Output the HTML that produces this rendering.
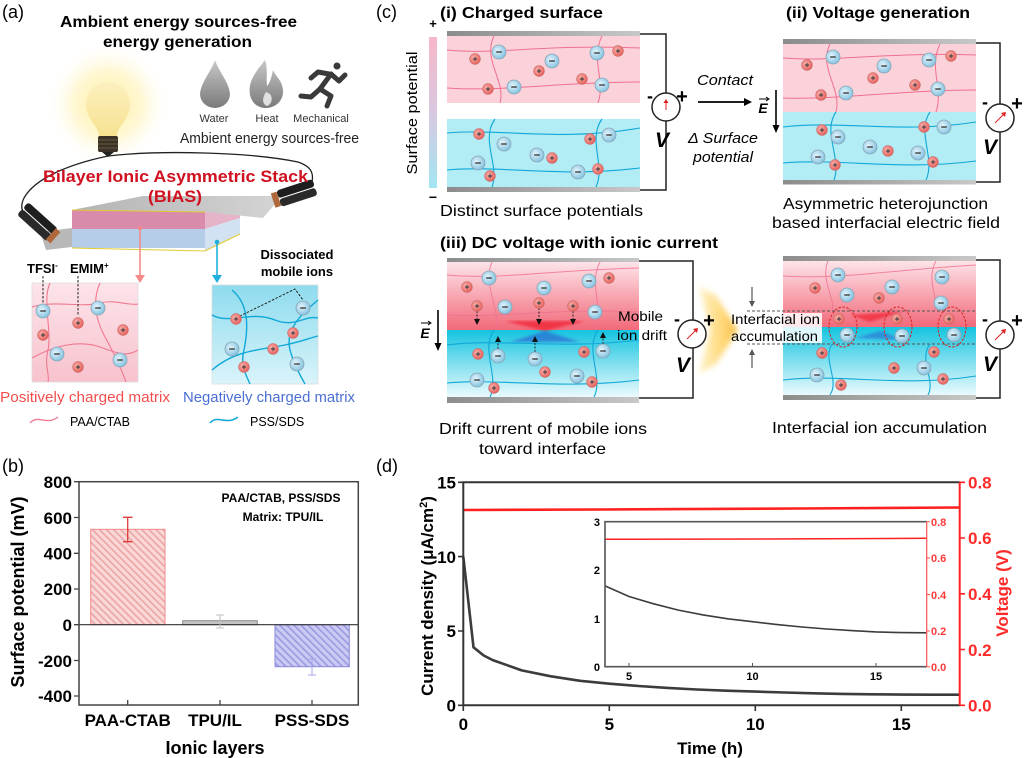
<!DOCTYPE html>
<html><head><meta charset="utf-8"><style>
html,body{margin:0;padding:0;background:#fff;}
svg{display:block;font-family:"Liberation Sans",Arial,sans-serif;}
</style></head><body>
<svg width="1024" height="758" viewBox="0 0 1024 758" xmlns="http://www.w3.org/2000/svg">
<defs>
<radialGradient id="gr" cx="0.4" cy="0.4" r="0.6"><stop offset="0" stop-color="#fbb4b0"/><stop offset="1" stop-color="#e8605c"/></radialGradient>
<radialGradient id="gb" cx="0.4" cy="0.4" r="0.6"><stop offset="0" stop-color="#e4f4fb"/><stop offset="1" stop-color="#86c4e2"/></radialGradient>
<g id="ip"><circle r="5.4" fill="url(#gr)" stroke="#c9706c" stroke-width="0.6"/><path d="M-2.1 0H2.1M0 -2.1V2.1" stroke="#333" stroke-width="0.9"/></g>
<g id="in"><circle r="7" fill="url(#gb)" stroke="#8aa6b4" stroke-width="0.8"/><path d="M-2.8 0H2.8" stroke="#333" stroke-width="1.3"/></g>
<radialGradient id="glow" cx="0.5" cy="0.5" r="0.5"><stop offset="0" stop-color="#fff0a0"/><stop offset="0.55" stop-color="#fff6cc" stop-opacity="0.85"/><stop offset="1" stop-color="#fff" stop-opacity="0"/></radialGradient>
<linearGradient id="bulb" x1="0" y1="0" x2="0" y2="1"><stop offset="0" stop-color="#fdf0c0"/><stop offset="1" stop-color="#f6e290"/></linearGradient>
<linearGradient id="gicon" x1="0" y1="0" x2="0" y2="1"><stop offset="0" stop-color="#c8c8c8"/><stop offset="1" stop-color="#7a7a7a"/></linearGradient>
<linearGradient id="pinkbox" x1="0" y1="0" x2="0" y2="1"><stop offset="0" stop-color="#fde4ea"/><stop offset="1" stop-color="#f7c2cd"/></linearGradient>
<linearGradient id="bluebox" x1="0" y1="0" x2="0" y2="1"><stop offset="0" stop-color="#8edbee"/><stop offset="1" stop-color="#daf4fa"/></linearGradient>
<linearGradient id="spbar" x1="0" y1="0" x2="0" y2="1"><stop offset="0" stop-color="#f7b7c8"/><stop offset="0.5" stop-color="#d8c8e0"/><stop offset="1" stop-color="#a2e6f2"/></linearGradient>
<linearGradient id="gray" x1="0" y1="0" x2="1" y2="0"><stop offset="0" stop-color="#8c8c8c"/><stop offset="1" stop-color="#c8c8c8"/></linearGradient>
<linearGradient id="pk3" x1="0" y1="0" x2="0" y2="1"><stop offset="0" stop-color="#fde4e9"/><stop offset="1" stop-color="#f2697a"/></linearGradient>
<linearGradient id="cy3" x1="0" y1="0" x2="0" y2="1"><stop offset="0" stop-color="#14c4e0"/><stop offset="1" stop-color="#eafafd"/></linearGradient>
<linearGradient id="yel" x1="0" y1="0" x2="1" y2="0"><stop offset="0" stop-color="#fff3c8"/><stop offset="0.6" stop-color="#ffd46a"/><stop offset="1" stop-color="#f8b830"/></linearGradient>
<linearGradient id="sheet" x1="0" y1="0" x2="1" y2="0"><stop offset="0" stop-color="#b4b4b4"/><stop offset="1" stop-color="#d4d4d4"/></linearGradient>
<filter id="blur3"><feGaussianBlur stdDeviation="3"/></filter>
<filter id="blur1"><feGaussianBlur stdDeviation="1.2"/></filter>
<pattern id="hp" width="5" height="5" patternUnits="userSpaceOnUse" patternTransform="rotate(-45)"><rect width="5" height="5" fill="#f9d8d8"/><rect width="1.6" height="5" fill="#eea4a4"/></pattern>
<pattern id="hb" width="5" height="5" patternUnits="userSpaceOnUse" patternTransform="rotate(-45)"><rect width="5" height="5" fill="#cacaf2"/><rect width="1.6" height="5" fill="#9a9ae2"/></pattern>
</defs>
<rect width="1024" height="758" fill="#fff"/>
<circle cx="108" cy="104" r="62" fill="url(#glow)"/>

<!-- ============ PANEL A ============ -->
<text x="2" y="18" font-size="18">(a)</text>
<text x="60" y="27" font-size="16" font-weight="bold" textLength="237" lengthAdjust="spacingAndGlyphs">Ambient energy sources-free</text>
<text x="103" y="47" font-size="16" font-weight="bold" textLength="149" lengthAdjust="spacingAndGlyphs">energy generation</text>
<path d="M215 60 C211 72,201 82,200 94 A15 14 0 0 0 230 94 C229 82,219 72,215 60Z" fill="url(#gicon)"/>
<path d="M265 60 C254 74,248 82,250 95 C252 104,259 108,266 108 C276 108,284 100,283 90 C282 80,276 77,273 70 C271 80,269 84,267 86 C266 76,268 68,265 60Z" fill="url(#gicon)"/>
<path d="M266 92 C262 98,262 104,267 106 C272 104,273 98,270 94Z" fill="#e0e0e0"/>
<g stroke="#3a3a3a" stroke-width="5" stroke-linecap="round" stroke-linejoin="round" fill="none">
<circle cx="337" cy="66" r="3.5" fill="#3a3a3a" stroke="none"/>
<path d="M331 74 L320 89"/><path d="M331 74 L339 81 L345 75"/><path d="M329 74 L318 72 L311 78"/>
<path d="M320 89 L331 96 L327 106"/><path d="M320 89 L311 97 L301 96"/>
</g>
<text x="214" y="122" font-size="11" text-anchor="middle" fill="#333">Water</text>
<text x="267" y="122" font-size="11" text-anchor="middle" fill="#333">Heat</text>
<text x="321" y="122" font-size="11" text-anchor="middle" fill="#333">Mechanical</text>
<text x="180" y="143" font-size="15" fill="#222" textLength="179" lengthAdjust="spacingAndGlyphs">Ambient energy sources-free</text>
<path d="M99 136 C99 126,86 120,86 104 A22 22 0 0 1 130 104 C130 120,117 126,117 136Z" fill="url(#bulb)"/>
<rect x="98" y="136" width="20" height="16" rx="2" fill="#3a3226"/>
<path d="M98 140H118M98 144H118M98 148H118" stroke="#6a5a40" stroke-width="1"/>
<path d="M102 152 L108 157 L114 152Z" fill="#222"/>
<path d="M108 156 C160 150,250 152,298 162 C310 166,314 172,312 182" fill="none" stroke="#222" stroke-width="1.3"/>
<path d="M108 156 C70 164,35 178,24 198 C20 206,22 212,26 216" fill="none" stroke="#222" stroke-width="1.3"/>
<polygon points="40,232 72,228 72,247 46,250" fill="#b8b8b8"/>
<polygon points="205,212 240,203 240,218 205,229" fill="#e6b4c8"/>
<polygon points="205,229 240,218 240,234 205,251" fill="#d2e2f2"/>
<rect x="72" y="210" width="133" height="19" fill="#d98bac"/>
<rect x="72" y="229" width="133" height="19" fill="#b5cde9"/>
<path d="M72 248 L205 251 L240 234" fill="none" stroke="#e2cc30" stroke-width="1"/>
<polygon points="72,210 143,196 282,196 263,218 205,212" fill="url(#sheet)"/>
<path d="M72 210 L205 212" stroke="#e2cc30" stroke-width="1"/>
<g transform="translate(40,222) rotate(42)"><rect x="-22" y="-7" width="40" height="8" rx="3" fill="#1e1e1e"/><rect x="-22" y="2" width="40" height="8" rx="3" fill="#2a2a2a"/><rect x="16" y="-6" width="6" height="15" fill="#b0683a"/></g>
<g transform="translate(292,194) rotate(-18)"><rect x="-14" y="-8" width="38" height="8" rx="3" fill="#1e1e1e"/><rect x="-14" y="1" width="38" height="8" rx="3" fill="#2a2a2a"/><rect x="-20" y="-7" width="6" height="15" fill="#b0683a"/></g>
<text x="43" y="182" font-size="17" font-weight="bold" fill="#cf1120" textLength="265" lengthAdjust="spacingAndGlyphs">Bilayer Ionic Asymmetric Stack</text>
<text x="148" y="202" font-size="17" font-weight="bold" fill="#cf1120" textLength="54" lengthAdjust="spacingAndGlyphs">(BIAS)</text>
<circle cx="140" cy="228" r="2.3" fill="#f48a8a"/>
<path d="M140 228 V276" stroke="#f48a8a" stroke-width="1.6"/><path d="M135 275 L140 283 L145 275Z" fill="#f48a8a"/>
<circle cx="217" cy="242" r="2.3" fill="#20b0e0"/>
<path d="M217 242 V276" stroke="#20b0e0" stroke-width="1.6"/><path d="M212 275 L217 283 L222 275Z" fill="#20b0e0"/>
<text x="27" y="273" font-size="13" font-weight="bold">TFSI<tspan font-size="8" dy="-5">-</tspan></text>
<text x="70" y="273" font-size="13" font-weight="bold">EMIM<tspan font-size="8" dy="-5">+</tspan></text>
<text x="297" y="259" font-size="13" font-weight="bold" text-anchor="middle">Dissociated</text>
<text x="297" y="276" font-size="13" font-weight="bold" text-anchor="middle">mobile ions</text>
<rect x="32" y="283" width="106" height="99" fill="url(#pinkbox)" stroke="#ddd" stroke-width="0.8"/>
<g fill="none" stroke="#f07890" stroke-width="1.1">
<path d="M32 307 C55 300,80 308,100 303 C115 299,128 306,138 304"/>
<path d="M32 358 C55 345,80 340,100 347 C115 352,125 358,138 350"/>
<path d="M50 283 C42 300,52 330,48 350 C44 365,50 375,48 382"/>
<path d="M100 283 C92 300,96 320,104 335 C112 350,120 365,126 382"/>
</g>
<path d="M43 276 V304 M78 276 V316" stroke="#222" stroke-width="1" stroke-dasharray="2.5,1.5"/>
<use href="#in" x="43" y="311"/><use href="#in" x="98" y="308"/><use href="#in" x="57" y="354"/><use href="#in" x="120" y="360"/>
<use href="#ip" x="78" y="323"/><use href="#ip" x="43" y="335"/><use href="#ip" x="123" y="330"/><use href="#ip" x="78" y="367"/>
<rect x="212" y="285" width="106" height="99" fill="url(#bluebox)" stroke="#ddd" stroke-width="0.8"/>
<g fill="none" stroke="#10a8d8" stroke-width="1.4">
<path d="M212 315 C230 325,250 310,275 320 C295 328,305 315,318 318"/>
<path d="M212 370 C235 350,260 350,285 345 C300 342,310 338,318 336"/>
<path d="M232 290 C250 305,248 330,244 350 C240 365,246 375,250 384"/>
<path d="M318 300 C300 315,285 330,290 350 C294 365,300 375,305 384"/>
</g>
<path d="M236 318 L295 289 L303 300" fill="none" stroke="#222" stroke-width="1" stroke-dasharray="2.5,1.5"/>
<use href="#ip" x="236" y="319"/><use href="#ip" x="293" y="333"/><use href="#ip" x="273" y="349"/><use href="#ip" x="244" y="367"/>
<use href="#in" x="303" y="308"/><use href="#in" x="232" y="349"/><use href="#in" x="297" y="364"/>
<text x="0" y="402" font-size="15" fill="#f24e4e" textLength="170" lengthAdjust="spacingAndGlyphs">Positively charged matrix</text>
<text x="183" y="402" font-size="15" fill="#4b6fd2" textLength="172" lengthAdjust="spacingAndGlyphs">Negatively charged matrix</text>
<path d="M30 423 C38 414,46 426,58 417" fill="none" stroke="#f07890" stroke-width="1.3"/>
<text x="70" y="426" font-size="12.5">PAA/CTAB</text>
<path d="M210 423 C218 414,226 426,238 417" fill="none" stroke="#10a8d8" stroke-width="1.5"/>
<text x="250" y="426" font-size="12.5">PSS/SDS</text>

<!-- ============ PANEL C ============ -->
<text x="376" y="18" font-size="18">(c)</text>
<text x="440" y="18" font-size="16" font-weight="bold" textLength="163" lengthAdjust="spacingAndGlyphs">(i) Charged surface</text>
<rect x="429" y="37" width="8" height="151" fill="url(#spbar)"/>
<text x="433" y="28" font-size="13" font-weight="bold" text-anchor="middle">+</text>
<text x="433" y="202" font-size="14" font-weight="bold" text-anchor="middle">−</text>
<text transform="translate(417,113) rotate(-90)" font-size="15" text-anchor="middle" textLength="123" lengthAdjust="spacingAndGlyphs">Surface potential</text>
<rect x="447" y="31" width="193" height="5" fill="url(#gray)"/>
<rect x="447" y="36" width="193" height="67" fill="#fbd2da"/>
<rect x="447" y="119" width="193" height="68" fill="#b2ecf5"/>
<rect x="447" y="187" width="193" height="5" fill="url(#gray)"/>
<g fill="none" stroke="#f07090" stroke-width="1">
<path d="M447 50 C500 55,540 44,640 48"/><path d="M447 88 C500 92,560 82,640 82"/>
<path d="M494 36 C482 60,506 80,500 103"/><path d="M602 36 C590 60,606 80,598 103"/>
</g>
<g fill="none" stroke="#10a8d8" stroke-width="1.1">
<path d="M447 133 C500 128,560 142,640 128"/><path d="M447 170 C500 165,560 178,640 168"/>
<path d="M495 119 C480 140,500 165,492 187"/><path d="M602 119 C587 140,606 165,596 187"/>
</g>
<use href="#in" x="499" y="52"/><use href="#in" x="552" y="61"/><use href="#in" x="597" y="53"/><use href="#in" x="514" y="87"/><use href="#in" x="602" y="85"/>
<use href="#ip" x="475" y="59"/><use href="#ip" x="539" y="71"/><use href="#ip" x="618" y="51"/><use href="#ip" x="488" y="89"/><use href="#ip" x="582" y="79"/>
<use href="#ip" x="479" y="134"/><use href="#ip" x="590" y="139"/><use href="#ip" x="552" y="158"/><use href="#ip" x="490" y="176"/><use href="#ip" x="598" y="169"/>
<use href="#in" x="504" y="144"/><use href="#in" x="609" y="135"/><use href="#in" x="537" y="155"/><use href="#in" x="478" y="163"/><use href="#in" x="578" y="172"/>
<path d="M640 34 H666 V93 M666 121 V190 H640" fill="none" stroke="#222" stroke-width="1.5"/>
<circle cx="666" cy="107" r="14" fill="#fff" stroke="#222" stroke-width="1.5"/>
<path d="M666 110 V101" stroke="#e02020" stroke-width="1"/><path d="M663.5 103 L666 99 L668.5 103Z" fill="#e02020"/>
<text x="650" y="102" font-size="18" font-weight="bold" text-anchor="middle">-</text>
<text x="682" y="103" font-size="20" font-weight="bold" text-anchor="middle">+</text>
<text x="662" y="147" font-size="21" font-weight="bold" font-style="italic" text-anchor="middle">V</text>
<text x="440" y="216" font-size="16" textLength="203" lengthAdjust="spacingAndGlyphs">Distinct surface potentials</text>
<text x="697" y="85" font-size="15" font-style="italic" textLength="56" lengthAdjust="spacingAndGlyphs">Contact</text>
<path d="M698 102 H745" stroke="#000" stroke-width="1.8"/><path d="M744 98 L752 102 L744 106Z" fill="#000"/>
<text x="688" y="143" font-size="15" font-style="italic" textLength="70" lengthAdjust="spacingAndGlyphs">Δ Surface</text>
<text x="693" y="162" font-size="15" font-style="italic" textLength="60" lengthAdjust="spacingAndGlyphs">potential</text>
<text x="763" y="113" font-size="14" font-weight="bold" font-style="italic" text-anchor="middle">E</text>
<path d="M759 99 H768" stroke="#000" stroke-width="1"/><path d="M766 97 L769 99 L766 101" fill="none" stroke="#000" stroke-width="1"/>
<path d="M776 90 V126" stroke="#000" stroke-width="1.6"/><path d="M772.5 125 L776 133 L779.5 125Z" fill="#000"/>
<text x="786" y="18" font-size="16" font-weight="bold" textLength="184" lengthAdjust="spacingAndGlyphs">(ii) Voltage generation</text>
<rect x="783" y="39" width="193" height="5" fill="url(#gray)"/>
<rect x="783" y="44" width="193" height="68" fill="#fbd2da"/>
<rect x="783" y="112" width="193" height="68" fill="#b2ecf5"/>
<rect x="783" y="180" width="193" height="4.5" fill="url(#gray)"/>
<g fill="none" stroke="#f07090" stroke-width="1">
<path d="M783 58 C840 62,880 52,976 55"/><path d="M783 98 C840 100,900 90,976 90"/>
<path d="M830 44 C818 68,842 88,836 112"/><path d="M940 44 C928 68,944 88,936 112"/>
</g>
<g fill="none" stroke="#10a8d8" stroke-width="1.1">
<path d="M783 127 C840 120,900 134,976 122"/><path d="M783 163 C840 158,900 171,976 161"/>
<path d="M836 112 C822 132,842 158,834 180"/><path d="M930 112 C916 132,936 158,926 180"/>
</g>
<use href="#ip" x="807" y="65"/><use href="#ip" x="873" y="78"/><use href="#ip" x="951" y="56"/><use href="#ip" x="821" y="95"/><use href="#ip" x="915" y="85"/>
<use href="#in" x="833" y="57"/><use href="#in" x="884" y="66"/><use href="#in" x="929" y="60"/><use href="#in" x="846" y="93"/><use href="#in" x="938" y="89"/>
<use href="#ip" x="822" y="130"/><use href="#ip" x="924" y="127"/><use href="#ip" x="888" y="151"/><use href="#ip" x="835" y="165"/><use href="#ip" x="933" y="162"/>
<use href="#in" x="838" y="137"/><use href="#in" x="944" y="127"/><use href="#in" x="870" y="147"/><use href="#in" x="818" y="157"/><use href="#in" x="918" y="153"/>
<path d="M976 43 H1000 V104 M1000 132 V182 H976" fill="none" stroke="#222" stroke-width="1.5"/>
<circle cx="1000" cy="118" r="14" fill="#fff" stroke="#222" stroke-width="1.5"/>
<path d="M995 123 L1004 114" stroke="#e02020" stroke-width="1"/><path d="M1001 113 L1006 112 L1005 117Z" fill="#e02020"/>
<text x="985" y="108" font-size="18" font-weight="bold" text-anchor="middle">-</text>
<text x="1017" y="110" font-size="20" font-weight="bold" text-anchor="middle">+</text>
<text x="990" y="154" font-size="21" font-weight="bold" font-style="italic" text-anchor="middle">V</text>
<text x="783" y="209" font-size="16" textLength="205" lengthAdjust="spacingAndGlyphs">Asymmetric heterojunction</text>
<text x="772" y="228" font-size="16" textLength="228" lengthAdjust="spacingAndGlyphs">based interfacial electric field</text>
<text x="440" y="248" font-size="16" font-weight="bold" textLength="278" lengthAdjust="spacingAndGlyphs">(iii) DC voltage with ionic current</text>
<rect x="447" y="258" width="192" height="4.5" fill="url(#gray)"/>
<rect x="447" y="262" width="192" height="68" fill="url(#pk3)"/>
<rect x="447" y="330" width="192" height="67" fill="url(#cy3)"/>
<rect x="447" y="397" width="192" height="6" fill="url(#gray)"/>
<polygon points="505,321 585,321 545,331" fill="#f02030" opacity="0.75" filter="url(#blur1)"/>
<polygon points="510,342 545,331 580,342" fill="#2a5ad0" opacity="0.6" filter="url(#blur1)"/>
<g fill="none" stroke="#f07090" stroke-width="1" opacity="0.8">
<path d="M447 275 C500 280,550 270,639 268"/><path d="M447 315 C500 318,560 308,639 312"/>
<path d="M492 262 C482 285,500 305,496 330"/><path d="M600 262 C588 285,604 305,596 330"/>
</g>
<g fill="none" stroke="#10a8d8" stroke-width="1.1">
<path d="M447 345 C500 338,560 350,639 340"/><path d="M447 383 C500 378,560 390,639 380"/>
<path d="M494 330 C480 350,500 378,490 397"/><path d="M598 330 C584 350,604 378,594 397"/>
</g>
<g stroke="#222" stroke-width="1" stroke-dasharray="2,1.5">
<path d="M477 311 V320"/><path d="M539 308 V320"/><path d="M573 311 V320"/>
<path d="M498 349 V341"/><path d="M535 352 V341"/><path d="M603 344 V337"/>
</g>
<g fill="#111"><path d="M474 319 L477 325 L480 319Z"/><path d="M536 319 L539 325 L542 319Z"/><path d="M570 319 L573 325 L576 319Z"/>
<path d="M495 342 L498 336 L501 342Z"/><path d="M532 342 L535 336 L538 342Z"/><path d="M600 338 L603 332 L606 338Z"/></g>
<use href="#ip" x="467" y="287"/><use href="#ip" x="609" y="278"/><use href="#ip" x="477" y="306"/><use href="#ip" x="539" y="303"/><use href="#ip" x="573" y="306"/>
<use href="#in" x="489" y="278"/><use href="#in" x="544" y="288"/><use href="#in" x="589" y="281"/><use href="#in" x="505" y="307"/><use href="#in" x="595" y="312"/>
<use href="#ip" x="478" y="354"/><use href="#ip" x="584" y="352"/><use href="#ip" x="545" y="372"/><use href="#ip" x="494" y="388"/><use href="#ip" x="592" y="382"/>
<use href="#in" x="498" y="356"/><use href="#in" x="603" y="351"/><use href="#in" x="535" y="359"/><use href="#in" x="477" y="380"/><use href="#in" x="577" y="376"/>
<text x="618" y="321" font-size="14" textLength="45" lengthAdjust="spacingAndGlyphs">Mobile</text>
<text x="617" y="340" font-size="14" textLength="50" lengthAdjust="spacingAndGlyphs">ion drift</text>
<text x="425" y="338" font-size="14" font-weight="bold" font-style="italic" text-anchor="middle">E</text>
<path d="M421 323 H430" stroke="#000" stroke-width="1"/><path d="M428 321 L431 323 L428 325" fill="none" stroke="#000" stroke-width="1"/>
<path d="M438 310 V344" stroke="#000" stroke-width="1.6"/><path d="M434.5 343 L438 351 L441.5 343Z" fill="#000"/>
<polygon points="699,286 716,296 738,330 716,364 699,374 710,330" fill="url(#yel)" filter="url(#blur3)" opacity="0.9"/>
<path d="M639 261 H693 V320 M693 348 V398 H639" fill="none" stroke="#222" stroke-width="1.5"/>
<circle cx="692" cy="334" r="14" fill="#fff" stroke="#222" stroke-width="1.5"/>
<path d="M687 339 L696 330" stroke="#e02020" stroke-width="1"/><path d="M693 329 L698 328 L697 333Z" fill="#e02020"/>
<text x="677" y="325" font-size="18" font-weight="bold" text-anchor="middle">-</text>
<text x="709" y="327" font-size="20" font-weight="bold" text-anchor="middle">+</text>
<text x="683" y="372" font-size="21" font-weight="bold" font-style="italic" text-anchor="middle">V</text>
<text x="439" y="434" font-size="16" textLength="208" lengthAdjust="spacingAndGlyphs">Drift current of mobile ions</text>
<text x="479" y="454" font-size="16" textLength="127" lengthAdjust="spacingAndGlyphs">toward interface</text>
<rect x="783" y="256" width="193" height="5" fill="url(#gray)"/>
<rect x="783" y="261" width="193" height="66" fill="url(#pk3)"/>
<rect x="783" y="327" width="193" height="68" fill="url(#cy3)"/>
<rect x="783" y="395" width="193" height="5" fill="url(#gray)"/>
<polygon points="850,315 905,311 870,322" fill="#f02030" opacity="0.7" filter="url(#blur1)"/>
<polygon points="855,338 880,331 905,340" fill="#2a5ad0" opacity="0.5" filter="url(#blur1)"/>
<g fill="none" stroke="#f07090" stroke-width="1" opacity="0.8">
<path d="M783 276 C840 280,890 270,976 265"/><path d="M828 261 C820 280,836 300,832 311"/><path d="M936 261 C925 280,940 300,934 311"/>
</g>
<g fill="none" stroke="#10a8d8" stroke-width="1.1">
<path d="M783 380 C840 373,900 388,976 376"/><path d="M832 344 C822 360,840 380,830 395"/><path d="M930 344 C918 360,936 380,928 395"/>
</g>
<rect x="745" y="313" width="77" height="30" fill="#fff" opacity="0.85"/>
<path d="M747 311 H976 M747 344 H976" stroke="#555" stroke-width="1" stroke-dasharray="3,2"/>
<g fill="none" stroke="#d82020" stroke-width="1" stroke-dasharray="2.5,1.5">
<ellipse cx="843" cy="327" rx="14" ry="20"/><ellipse cx="898" cy="327" rx="14" ry="20"/><ellipse cx="952" cy="327" rx="14" ry="20"/>
</g>
<use href="#ip" x="815" y="288"/><use href="#ip" x="879" y="298"/>
<use href="#in" x="838" y="275"/><use href="#in" x="847" y="295"/><use href="#in" x="892" y="287"/><use href="#in" x="942" y="277"/><use href="#in" x="941" y="303"/>
<use href="#ip" x="839" y="319"/><use href="#ip" x="897" y="319"/><use href="#ip" x="949" y="319"/>
<use href="#in" x="847" y="335"/><use href="#in" x="902" y="336"/><use href="#in" x="954" y="335"/>
<use href="#ip" x="822" y="353"/><use href="#ip" x="934" y="352"/><use href="#ip" x="894" y="368"/><use href="#ip" x="841" y="385"/><use href="#ip" x="943" y="379"/>
<use href="#in" x="817" y="375"/><use href="#in" x="924" y="368"/>
<text x="731" y="324" font-size="14" textLength="89" lengthAdjust="spacingAndGlyphs">Interfacial ion</text>
<text x="731" y="341" font-size="14" textLength="87" lengthAdjust="spacingAndGlyphs">accumulation</text>
<path d="M752 287 V302" stroke="#555" stroke-width="1.2"/><path d="M749 301 L752 307 L755 301Z" fill="#555"/>
<path d="M752 368 V354" stroke="#555" stroke-width="1.2"/><path d="M749 355 L752 349 L755 355Z" fill="#555"/>
<path d="M976 260 H1000 V321 M1000 349 V398 H976" fill="none" stroke="#222" stroke-width="1.5"/>
<circle cx="1000" cy="335" r="14" fill="#fff" stroke="#222" stroke-width="1.5"/>
<path d="M995 340 L1004 331" stroke="#e02020" stroke-width="1"/><path d="M1001 330 L1006 329 L1005 334Z" fill="#e02020"/>
<text x="985" y="325" font-size="18" font-weight="bold" text-anchor="middle">-</text>
<text x="1017" y="327" font-size="20" font-weight="bold" text-anchor="middle">+</text>
<text x="990" y="371" font-size="21" font-weight="bold" font-style="italic" text-anchor="middle">V</text>
<text x="772" y="433" font-size="16" textLength="215" lengthAdjust="spacingAndGlyphs">Interfacial ion accumulation</text>

<!-- ============ PANEL B ============ -->
<text x="2" y="472" font-size="18">(b)</text>
<rect x="90.7" y="529.3" width="74.3" height="95.4" fill="url(#hp)" stroke="#f08a8a" stroke-width="1"/>
<rect x="182.7" y="620.7" width="74.6" height="4" fill="#c4c4c4" stroke="#8a8a8a" stroke-width="1"/>
<rect x="275" y="624.7" width="74.3" height="42" fill="url(#hb)" stroke="#8888d8" stroke-width="1"/>
<line x1="79" y1="624.7" x2="358" y2="624.7" stroke="#333" stroke-width="1.2"/>
<g stroke="#e03a3a" stroke-width="1.3"><path d="M127.7 517.3 V541.7 M123 517.3 H132.5 M123 541.7 H132.5"/></g>
<g stroke="#c0c0c0" stroke-width="1.1"><path d="M220 615 V628 M216 615 H224 M216 628 H224"/></g>
<g stroke="#a8a8e8" stroke-width="1.1"><path d="M312 659 V675 M308 659 H316 M308 675 H316"/></g>
<rect x="79" y="481.7" width="279.3" height="223.3" fill="none" stroke="#444" stroke-width="1.5"/>
<g stroke="#444" stroke-width="1.3">
<path d="M74 481.7H79 M74 517.5H79 M74 553.3H79 M74 589H79 M74 624.7H79 M74 660.5H79 M74 696H79"/>
<path d="M127.7 705V700 M220 705V700 M312 705V700"/>
</g>
<g font-size="17" font-weight="bold" text-anchor="end">
<text x="72" y="488">800</text><text x="72" y="524">600</text><text x="72" y="559.5">400</text><text x="72" y="595">200</text>
<text x="72" y="631">0</text><text x="72" y="667">-200</text><text x="72" y="702">-400</text>
</g>
<g font-size="17" font-weight="bold" text-anchor="middle">
<text x="127.7" y="726">PAA-CTAB</text><text x="215" y="726">TPU/IL</text><text x="312" y="726">PSS-SDS</text>
</g>
<text x="215" y="754" font-size="18" font-weight="bold" text-anchor="middle">Ionic layers</text>
<text transform="translate(24,592) rotate(-90)" font-size="18" font-weight="bold" text-anchor="middle">Surface potential (mV)</text>
<text x="281" y="502" font-size="12" font-weight="bold" text-anchor="middle">PAA/CTAB, PSS/SDS</text>
<text x="283" y="521" font-size="12" font-weight="bold" text-anchor="middle">Matrix: TPU/IL</text>

<!-- ============ PANEL D ============ -->
<text x="376" y="472" font-size="18">(d)</text>
<path d="M463.3 510 L600 509.5 L800 508.5 L959.7 507.5" fill="none" stroke="#ff2020" stroke-width="2.6"/>
<path d="M463.3 556.6 L473.5 647.3 L483.7 655.5 L492.5 660 L507.1 665.2 L521.7 670.4 L550.9 676.3 L580.1 680.8 L609.3 683.7 L638.5 686 L667.7 687.9 L696.9 689.5 L726.1 690.7 L755.3 691.6 L784.5 692.5 L813.7 693.3 L842.9 693.9 L872.1 694.3 L901.3 694.6 L930.5 694.7 L959.7 694.7" fill="none" stroke="#3c3c3c" stroke-width="2.6" stroke-linejoin="round"/>
<rect x="605" y="521.7" width="321.7" height="145" fill="#fff"/>
<path d="M605 539.3 L760 539 L926.7 538.3" fill="none" stroke="#ff2020" stroke-width="1.5"/>
<path d="M605 585.9 L629 596.5 L653.7 603.8 L678.4 610.1 L703.1 614.9 L727.8 618.8 L752.5 621.7 L777.2 624.6 L801.9 627 L826.6 629 L851.3 630.6 L876 631.9 L900.7 632.6 L926.7 632.8" fill="none" stroke="#3c3c3c" stroke-width="1.6"/>
<path d="M926.7 521.7 H605 V666.7 H926.7" fill="none" stroke="#555" stroke-width="1.6"/>
<path d="M926.7 521.7 V666.7" stroke="#ff5050" stroke-width="1.2"/>
<g stroke="#555" stroke-width="1"><path d="M629 666.7V663 M752.5 666.7V663 M876 666.7V663"/></g>
<g stroke="#ff5050" stroke-width="1"><path d="M926.7 521.7H930 M926.7 558H930 M926.7 594.5H930 M926.7 631H930 M926.7 666.7H930"/></g>
<g font-size="11" font-weight="bold" text-anchor="end">
<text x="600" y="526">3</text><text x="600" y="574">2</text><text x="600" y="623">1</text><text x="600" y="671">0</text>
</g>
<g font-size="11" font-weight="bold" text-anchor="middle">
<text x="629" y="680">5</text><text x="752.5" y="680">10</text><text x="876" y="680">15</text>
</g>
<g font-size="11" font-weight="bold" fill="#ff3a3a">
<text x="931" y="526">0.8</text><text x="931" y="562">0.6</text><text x="931" y="599">0.4</text><text x="931" y="635">0.2</text><text x="931" y="671">0.0</text>
</g>
<path d="M959.7 482.3 H463.3 V705.3 H959.7" fill="none" stroke="#333" stroke-width="2"/>
<path d="M959.7 482.3 V705.3" stroke="#ff2020" stroke-width="2"/>
<g stroke="#333" stroke-width="1.6">
<path d="M458 482.3H463.3 M458 556.6H463.3 M458 631H463.3 M458 705.3H463.3"/>
<path d="M463.3 705.3V711 M609.3 705.3V711 M755.3 705.3V711 M901.3 705.3V711"/>
</g>
<g stroke="#ff2020" stroke-width="1.6">
<path d="M959.7 482.3H965 M959.7 538H965 M959.7 593.8H965 M959.7 649.5H965 M959.7 705.3H965"/>
</g>
<g font-size="17" font-weight="bold" text-anchor="end">
<text x="456" y="488.5">15</text><text x="456" y="563">10</text><text x="456" y="637">5</text><text x="456" y="711.5">0</text>
</g>
<g font-size="17" font-weight="bold" text-anchor="middle">
<text x="463.3" y="730">0</text><text x="609.3" y="730">5</text><text x="755.3" y="730">10</text><text x="901.3" y="730">15</text>
</g>
<text x="710" y="754" font-size="17" font-weight="bold" text-anchor="middle">Time (h)</text>
<g font-size="17" font-weight="bold" fill="#ff2a2a">
<text x="968" y="488.5">0.8</text><text x="968" y="544">0.6</text><text x="968" y="600">0.4</text><text x="968" y="656">0.2</text><text x="968" y="711.5">0.0</text>
</g>
<text transform="translate(1008,593) rotate(-90)" font-size="17" font-weight="bold" fill="#ff2a2a" text-anchor="middle">Voltage (V)</text>
<text transform="translate(433,596) rotate(-90)" font-size="17" font-weight="bold" text-anchor="middle">Current density (μA/cm<tspan font-size="11" dy="-6">2</tspan><tspan dy="6">)</tspan></text>
</svg>
</body></html>
